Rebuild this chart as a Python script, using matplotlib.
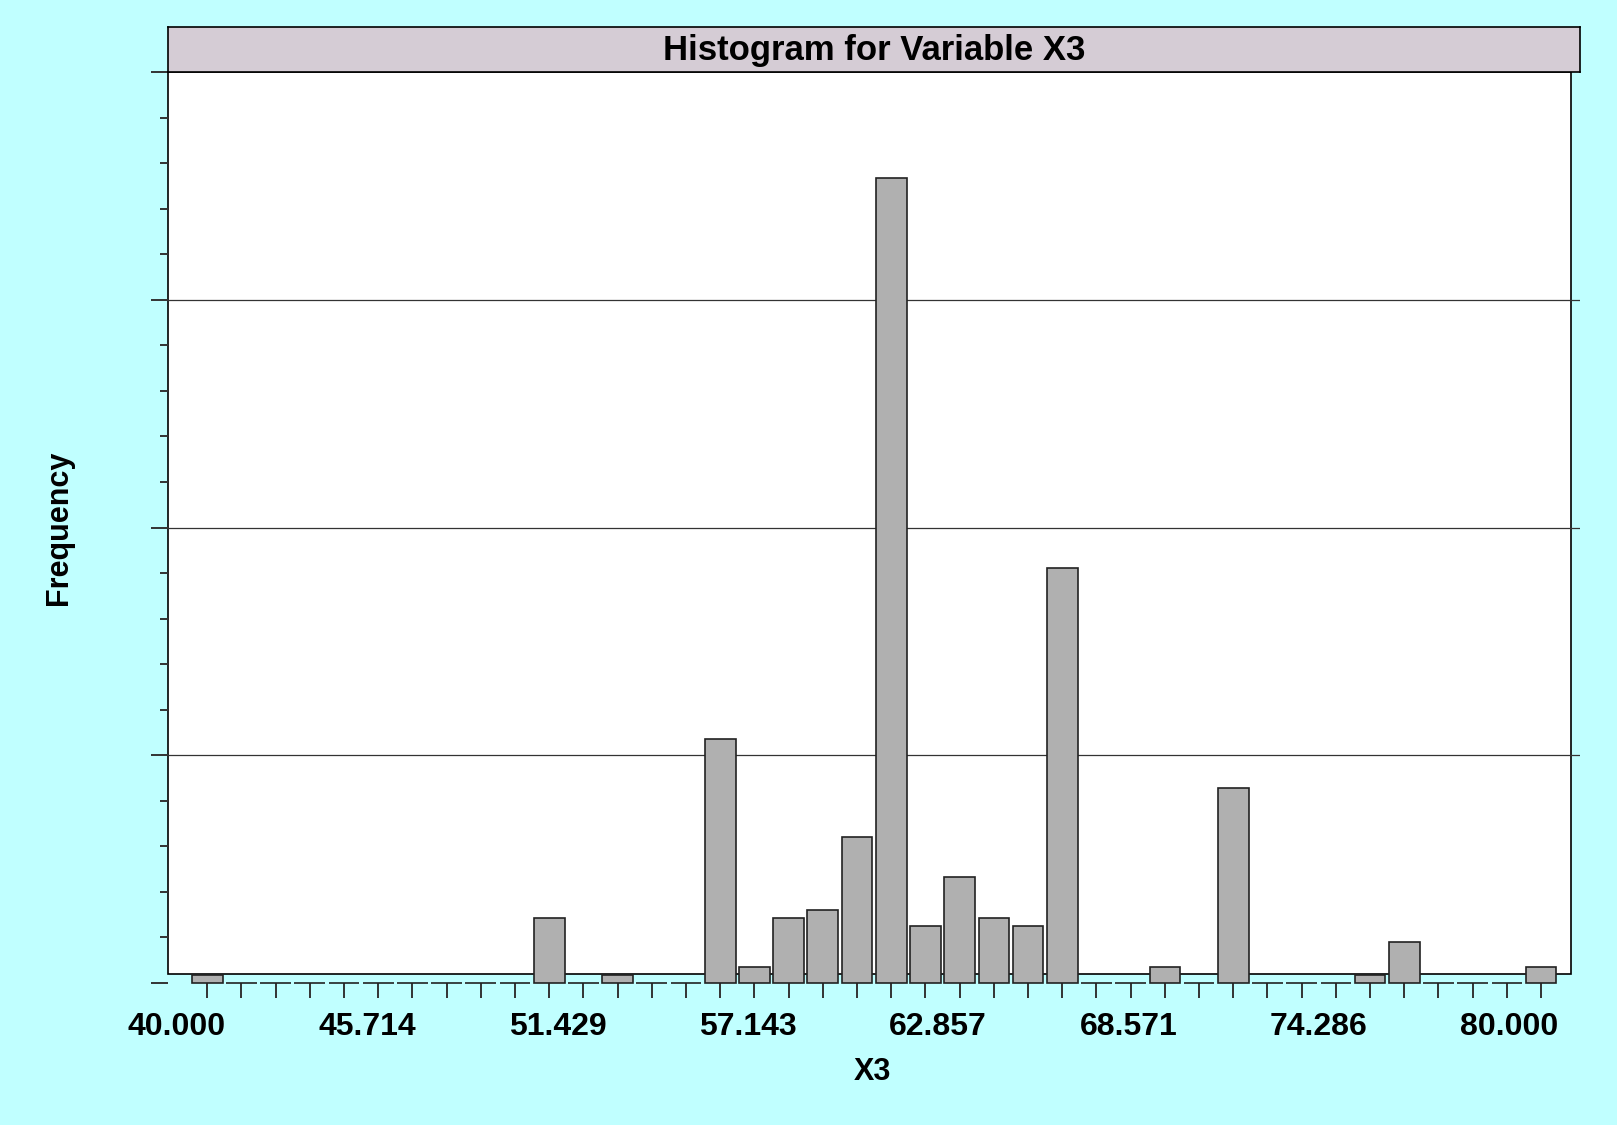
import matplotlib.pyplot as plt
import numpy as np
from matplotlib.patches import Rectangle

# histogram counts per bin (40 bins)
counts = [1, 0, 0, 0, 0, 0, 0, 0, 0, 0,
          8, 0, 1, 0, 0, 30, 2, 8, 9, 18,
          99, 7, 13, 8, 7, 51, 0, 0, 2, 0,
          24, 0, 0, 0, 1, 5, 0, 0, 0, 2]
bin_centers = np.linspace(40.907, 80.96, len(counts))
bin_width = 0.92
xtick_values = [40.0, 45.714, 51.429, 57.143, 62.857, 68.571, 74.286, 80.0]
xtick_labels = ["40.000", "45.714", "51.429", "57.143", "62.857", "68.571", "74.286", "80.000"]
y_major = [0, 28, 56, 84, 112]

BG = "#c0ffff"
BAND = "#d5ccd5"
BAR = "#b0b0b0"

W, H = 1617, 1125
fig = plt.figure(figsize=(W / 100, H / 100), dpi=100, facecolor=BG)
plt.rcParams["font.family"] = ["Liberation Sans", "DejaVu Sans"]


def fx(px):
    return px / W


def fy(py):
    return 1 - py / H


left, right, top, base = 168, 1580, 72, 983
ax = fig.add_axes([fx(left), fy(base), fx(right - left), (base - top) / H])
ax.set_facecolor("none")
xlo, xhi = 39.73, 82.13
ax.set_xlim(xlo, xhi)
ax.set_ylim(0, 112)
for s in ax.spines.values():
    s.set_visible(False)

# white plot frame (sits one count above the baseline, as in the original)
ax.add_patch(Rectangle((xlo, 1.05), 81.86 - xlo, 112 - 1.05, facecolor="white",
                       edgecolor="black", linewidth=1.2, zorder=0, clip_on=False))

for yv in y_major[1:-1]:
    ax.axhline(yv, color="#333333", linewidth=0.9, zorder=1)

ax.bar(bin_centers, counts, width=bin_width, color=BAR, edgecolor="#222222",
       linewidth=1.2, zorder=2, clip_on=False)

# y ticks: unlabeled, majors + minors
ax.set_yticks(y_major)
ax.set_yticks(np.arange(0, 112.1, 5.6), minor=True)
ax.tick_params(axis="y", which="major", length=12, width=1.4, color="#333333",
               labelleft=False)
ax.tick_params(axis="y", which="minor", length=6, width=1.4, color="#333333")

# x: labels at nice values, tick marks at bin centers
ax.set_xticks(xtick_values)
ax.set_xticklabels(xtick_labels, fontsize=23, fontweight="bold")
ax.set_xticks(bin_centers, minor=True)
ax.tick_params(axis="x", which="major", length=0, pad=21)
ax.tick_params(axis="x", which="minor", length=11, width=1.4, color="#333333")

# title band
tax = fig.add_axes([fx(left), fy(top), fx(right - left), (top - 27) / H])
tax.set_facecolor(BAND)
tax.set_xticks([])
tax.set_yticks([])
for s in tax.spines.values():
    s.set_linewidth(1.2)
tax.text(0.5, 0.48, "Histogram for Variable X3", ha="center", va="center",
         fontsize=25, fontweight="bold", transform=tax.transAxes)

fig.text(fx(59), fy(528), "Frequency", rotation=90, ha="center", va="center",
         fontsize=22, fontweight="bold")
fig.text(fx(872), fy(1072), "X3", ha="center", va="center",
         fontsize=22, fontweight="bold")

fig.savefig("out.png", dpi=100, facecolor=BG)
